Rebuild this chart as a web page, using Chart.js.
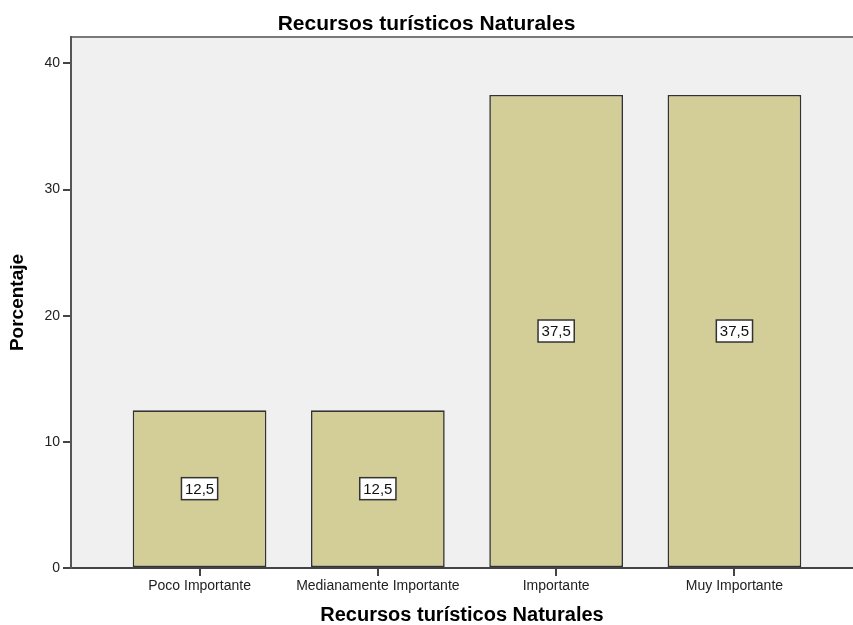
<!DOCTYPE html>
<html>
<head>
<meta charset="utf-8">
<script src="https://cdn.jsdelivr.net/npm/chart.js@4/dist/chart.umd.min.js"></script>
<style>
  html, body { margin: 0; padding: 0; background: #fff; }
  #wrap { width: 853px; height: 625px; }
</style>
</head>
<body>
<div id="wrap"><canvas id="grafico"></canvas></div>
<script>
// datos del gráfico
const categorias = ['Poco Importante', 'Medianamente Importante', 'Importante', 'Muy Importante']
const porcentajes = [12.5, 12.5, 37.5, 37.5]
const posiciones = [1, 2, 3, 4]
const ticksY = [0, 10, 20, 30, 40]

const titulo = 'Recursos turísticos Naturales'
const fuente = '"Liberation Sans", Arial, sans-serif'

// fondo gris del área de trazado y línea superior
const fondoPlugin = {
  id: 'fondo',
  beforeDraw(chart) {
    const { ctx, chartArea: a } = chart
    ctx.save()
    ctx.fillStyle = '#f0f0f0'
    ctx.fillRect(a.left, a.top, a.right - a.left, a.bottom - a.top)
    ctx.strokeStyle = '#7a7a7a'
    ctx.lineWidth = 2
    ctx.beginPath()
    ctx.moveTo(a.left, a.top)
    ctx.lineTo(a.right, a.top)
    ctx.stroke()
    ctx.restore()
  }
}

// etiquetas con recuadro en el centro de cada barra
const etiquetasPlugin = {
  id: 'etiquetas',
  afterDatasetsDraw(chart) {
    const { ctx } = chart
    const meta = chart.getDatasetMeta(0)
    ctx.save()
    ctx.font = '15px ' + fuente
    ctx.textAlign = 'center'
    ctx.textBaseline = 'middle'
    meta.data.forEach((bar, i) => {
      const txt = porcentajes[i].toFixed(1).replace('.', ',')
      const cy = (bar.y + bar.base) / 2
      const w = ctx.measureText(txt).width + 7
      const h = 22
      ctx.fillStyle = '#ffffff'
      ctx.fillRect(bar.x - w / 2, cy - h / 2, w, h)
      ctx.strokeStyle = '#333333'
      ctx.lineWidth = 1.5
      ctx.strokeRect(bar.x - w / 2, cy - h / 2, w, h)
      ctx.fillStyle = '#111111'
      ctx.fillText(txt, bar.x, cy + 1)
    })
    ctx.restore()
  }
}

new Chart(document.getElementById('grafico'), {
  type: 'bar',
  data: {
    datasets: [{
      data: posiciones.map((p, i) => ({ x: p, y: porcentajes[i] })),
      backgroundColor: '#d3ce98',
      borderColor: '#333333',
      borderWidth: 1.6,
      borderSkipped: false,
      barPercentage: 0.75,
      categoryPercentage: 1
    }]
  },
  options: {
    responsive: true,
    maintainAspectRatio: false,
    animation: false,
    layout: { padding: 0 },
    plugins: {
      legend: { display: false },
      tooltip: { enabled: false },
      title: {
        display: true,
        text: titulo,
        color: '#000',
        font: { family: fuente, size: 21, weight: 'bold', lineHeight: 1 },
        padding: { top: 14, bottom: 2 }
      }
    },
    scales: {
      x: {
        type: 'linear',
        offset: false,
        min: 0.279,
        max: 4.665,
        afterBuildTicks(scale) {
          scale.ticks = posiciones.map(v => ({ value: v }))
        },
        afterFit(scale) { scale.height = 57 },
        ticks: {
          autoSkip: false,
          maxRotation: 0,
          padding: 2,
          color: '#222',
          font: { family: fuente, size: 14 },
          callback: v => categorias[v - 1]
        },
        grid: { offset: false, drawOnChartArea: false, tickLength: 8, color: '#444', lineWidth: 2 },
        border: { color: '#444', width: 2 },
        title: {
          display: true,
          text: titulo,
          color: '#000',
          font: { family: fuente, size: 20, weight: 'bold', lineHeight: 1 },
          padding: { top: 2, bottom: 0 }
        }
      },
      y: {
        min: 0,
        max: 42.1,
        afterBuildTicks(scale) {
          scale.ticks = ticksY.map(v => ({ value: v }))
        },
        afterFit(scale) { scale.width = 71 },
        ticks: {
          padding: 3,
          color: '#222',
          font: { family: fuente, size: 14 }
        },
        grid: { drawOnChartArea: false, tickLength: 8, color: '#444', lineWidth: 2 },
        border: { color: '#555', width: 2 },
        title: {
          display: true,
          text: 'Porcentaje',
          color: '#000',
          font: { family: fuente, size: 19, weight: 'bold' },
          padding: { top: 6, bottom: 0 }
        }
      }
    }
  },
  plugins: [fondoPlugin, etiquetasPlugin]
})
</script>
</body>
</html>
